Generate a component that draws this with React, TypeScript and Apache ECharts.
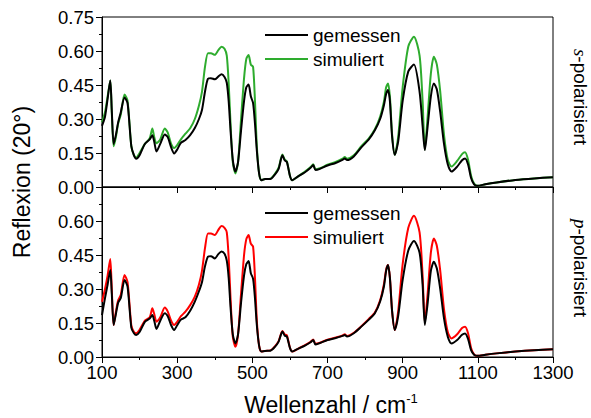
import React, { useEffect, useRef } from "react";
import * as echarts from "echarts";

// Wavenumbers (cm^-1), shared by all four curves
const wavenumber = [
  100, 108, 115, 122, 126, 131, 137, 143, 150, 160,
  168, 178, 185, 191, 200, 214, 227, 234, 239, 245,
  255, 267, 275, 284, 292, 300, 310, 322, 335, 347,
  358, 366, 374, 382, 390, 400, 410, 418, 426, 432,
  437, 442, 448, 455, 462, 470, 478, 484, 490, 496,
  502, 507, 512, 518, 524, 534, 548, 560, 570, 580,
  586, 592, 600, 606, 620, 640, 655, 662, 668, 680,
  700, 720, 740, 746, 752, 770, 790, 810, 826, 840,
  850, 856, 861, 866, 872, 879, 888, 900, 915, 930,
  945, 953, 959, 966, 975, 983, 991, 1000, 1010, 1020,
  1030, 1045, 1058, 1066, 1074, 1082, 1090, 1099, 1120, 1150,
  1200, 1250, 1300,
];

// s-polarised, measured
const sGemessen = [
  0.27, 0.31, 0.39, 0.47, 0.34, 0.19, 0.23, 0.285, 0.33, 0.395,
  0.37, 0.18, 0.14, 0.125, 0.14, 0.19, 0.21, 0.228, 0.2, 0.157,
  0.19, 0.232, 0.22, 0.175, 0.148, 0.165, 0.195, 0.207, 0.23, 0.26,
  0.3, 0.34, 0.42, 0.478, 0.48, 0.475, 0.488, 0.497, 0.485, 0.46,
  0.38, 0.25, 0.12, 0.068, 0.11, 0.25, 0.38, 0.44, 0.452, 0.4,
  0.37, 0.28, 0.16, 0.06, 0.03, 0.035, 0.035, 0.055, 0.08, 0.14,
  0.118, 0.11, 0.05, 0.03, 0.045, 0.065, 0.085, 0.097, 0.075, 0.08,
  0.095, 0.105, 0.12, 0.126, 0.119, 0.135, 0.175, 0.21, 0.25, 0.3,
  0.36, 0.41, 0.428, 0.38, 0.22, 0.142, 0.2, 0.38, 0.51, 0.54,
  0.42, 0.27, 0.163, 0.26, 0.4, 0.457, 0.43, 0.33, 0.19, 0.1,
  0.068, 0.09, 0.118, 0.126, 0.1, 0.04, 0.012, 0.005, 0.012, 0.02,
  0.031, 0.038, 0.043,
];

// s-polarised, simulated
const sSimuliert = [
  0.285, 0.33, 0.4, 0.47, 0.33, 0.18, 0.22, 0.28, 0.32, 0.408,
  0.38, 0.18, 0.14, 0.13, 0.15, 0.19, 0.215, 0.258, 0.22, 0.193,
  0.21, 0.258, 0.24, 0.19, 0.172, 0.185, 0.21, 0.235, 0.26, 0.3,
  0.36, 0.42, 0.53, 0.59, 0.59, 0.583, 0.605, 0.619, 0.61, 0.58,
  0.46, 0.28, 0.11, 0.06, 0.11, 0.3, 0.48, 0.565, 0.582, 0.54,
  0.53, 0.38, 0.18, 0.06, 0.03, 0.035, 0.037, 0.058, 0.085, 0.143,
  0.122, 0.113, 0.05, 0.03, 0.045, 0.068, 0.088, 0.1, 0.078, 0.083,
  0.098, 0.11, 0.125, 0.132, 0.125, 0.14, 0.18, 0.215, 0.255, 0.31,
  0.375, 0.44, 0.457, 0.4, 0.23, 0.142, 0.22, 0.44, 0.62, 0.663,
  0.58, 0.38, 0.165, 0.3, 0.5, 0.575, 0.54, 0.42, 0.23, 0.12,
  0.09, 0.115, 0.145, 0.153, 0.12, 0.05, 0.015, 0.005, 0.012, 0.02,
  0.031, 0.038, 0.043,
];

// p-polarised, measured
const pGemessen = [
  0.185, 0.26, 0.32, 0.384, 0.28, 0.141, 0.19, 0.24, 0.26, 0.34,
  0.31, 0.13, 0.105, 0.097, 0.11, 0.155, 0.17, 0.185, 0.16, 0.124,
  0.16, 0.193, 0.18, 0.14, 0.119, 0.14, 0.165, 0.175, 0.205, 0.244,
  0.29, 0.33, 0.4, 0.443, 0.445, 0.435, 0.455, 0.465, 0.455, 0.425,
  0.35, 0.22, 0.1, 0.06, 0.1, 0.24, 0.36, 0.41, 0.423, 0.37,
  0.345, 0.26, 0.14, 0.05, 0.024, 0.027, 0.028, 0.045, 0.068, 0.112,
  0.095, 0.09, 0.04, 0.024, 0.035, 0.05, 0.065, 0.075, 0.055, 0.062,
  0.075, 0.083, 0.093, 0.097, 0.09, 0.105, 0.134, 0.165, 0.193, 0.245,
  0.31, 0.38, 0.406, 0.35, 0.2, 0.119, 0.18, 0.34, 0.47, 0.512,
  0.46, 0.32, 0.141, 0.23, 0.38, 0.42, 0.39, 0.3, 0.17, 0.09,
  0.06, 0.075, 0.098, 0.104, 0.08, 0.03, 0.01, 0.005, 0.01, 0.016,
  0.024, 0.03, 0.034,
];

// p-polarised, simulated
const pSimuliert = [
  0.244, 0.3, 0.36, 0.432, 0.3, 0.141, 0.2, 0.25, 0.275, 0.362,
  0.33, 0.14, 0.11, 0.105, 0.12, 0.16, 0.175, 0.215, 0.19, 0.156,
  0.175, 0.218, 0.2, 0.16, 0.141, 0.155, 0.18, 0.2, 0.23, 0.266,
  0.32, 0.38, 0.48, 0.545, 0.545, 0.538, 0.562, 0.578, 0.57, 0.55,
  0.44, 0.26, 0.09, 0.045, 0.1, 0.28, 0.45, 0.52, 0.538, 0.5,
  0.487, 0.35, 0.16, 0.05, 0.024, 0.027, 0.029, 0.047, 0.07, 0.115,
  0.1, 0.095, 0.042, 0.024, 0.035, 0.052, 0.067, 0.077, 0.058, 0.063,
  0.076, 0.085, 0.095, 0.1, 0.093, 0.107, 0.136, 0.168, 0.196, 0.25,
  0.32, 0.385, 0.406, 0.35, 0.2, 0.119, 0.2, 0.41, 0.57, 0.623,
  0.55, 0.36, 0.15, 0.27, 0.46, 0.523, 0.49, 0.38, 0.21, 0.11,
  0.082, 0.1, 0.128, 0.134, 0.105, 0.04, 0.012, 0.005, 0.01, 0.016,
  0.024, 0.03, 0.034,
];

const seriesNames = ["gemessen", "simuliert"];
const panelLabels = ["s", "p"];
const xMin = 100;
const xMax = 1300;
const xStep = 200;
const yMin = 0;
const yMax = 0.75;
const yStep = 0.15;

const FONT = "'Liberation Sans', Arial, Helvetica, sans-serif";
const BLACK = "#000000";
const GREEN = "#2eac2e";
const RED = "#ff0000";

const pairs = (ys: number[]) => wavenumber.map((x, i) => [x, ys[i]]);

export default function App() {
  const ref = useRef<HTMLDivElement>(null);

  useEffect(() => {
    if (!ref.current) return;
    const chart = echarts.init(ref.current, undefined, { renderer: "svg" });

    const gridL = 102;
    const gridW = 451;
    const gridH = 170;
    const tops = [17, 187];

    const xAxisBase = (idx: number, showLabel: boolean) => ({
      gridIndex: idx,
      type: "value",
      min: xMin,
      max: xMax,
      interval: xStep,
      axisLine: { show: true, onZero: false, lineStyle: { color: BLACK, width: 1 } },
      axisTick: { show: true, inside: false, length: 6, lineStyle: { color: BLACK, width: 1 } },
      minorTick: { show: true, splitNumber: 2, length: 3, lineStyle: { color: BLACK, width: 1 } },
      splitLine: { show: false },
      axisLabel: {
        show: showLabel,
        fontFamily: FONT,
        fontSize: 18.5,
        color: BLACK,
        margin: 6,
        formatter: (v: number) => String(v),
      },
    });

    const yAxisBase = (idx: number, showMax: boolean) => ({
      gridIndex: idx,
      type: "value",
      min: yMin,
      max: yMax,
      interval: yStep,
      axisLine: { show: true, onZero: false, lineStyle: { color: BLACK, width: 1 } },
      axisTick: { show: true, inside: false, length: 6, lineStyle: { color: BLACK, width: 1 } },
      minorTick: { show: true, splitNumber: 2, length: 3, lineStyle: { color: BLACK, width: 1 } },
      splitLine: { show: false },
      axisLabel: {
        show: true,
        showMaxLabel: showMax,
        fontFamily: FONT,
        fontSize: 18.5,
        color: BLACK,
        margin: 8,
        formatter: (v: number) => v.toFixed(2),
      },
    });

    const lineSeries = (name: string, data: number[], idx: number, color: string, z: number) => ({
      name,
      type: "line",
      xAxisIndex: idx,
      yAxisIndex: idx,
      data: pairs(data),
      symbol: "none",
      showSymbol: false,
      smooth: 0.25,
      z,
      lineStyle: { color, width: 2 },
      emphasis: { disabled: true },
    });

    const legendGroup = (y0: number, simColor: string) => [
      {
        type: "line",
        shape: { x1: 265, y1: y0, x2: 308, y2: y0 },
        style: { stroke: BLACK, lineWidth: 2 },
      },
      {
        type: "text",
        x: 313,
        y: y0,
        style: {
          text: seriesNames[0],
          fontFamily: FONT,
          fontSize: 19,
          fill: BLACK,
          align: "left",
          verticalAlign: "middle",
        },
      },
      {
        type: "line",
        shape: { x1: 265, y1: y0 + 24, x2: 308, y2: y0 + 24 },
        style: { stroke: simColor, lineWidth: 2 },
      },
      {
        type: "text",
        x: 313,
        y: y0 + 24,
        style: {
          text: seriesNames[1],
          fontFamily: FONT,
          fontSize: 19,
          fill: BLACK,
          align: "left",
          verticalAlign: "middle",
        },
      },
    ];

    const sideLabel = (letter: string, cy: number) => ({
      type: "text",
      x: 580,
      y: cy,
      rotation: -Math.PI / 2,
      style: {
        text: `{it|${letter}}-polarisiert`,
        fontFamily: FONT,
        fontSize: 19,
        fill: BLACK,
        align: "center",
        verticalAlign: "middle",
        rich: {
          it: {
            fontFamily: "'Liberation Serif', 'Times New Roman', serif",
            fontStyle: "italic",
            fontSize: 19,
            fill: BLACK,
          },
        },
      },
    });

    const option = {
      animation: false,
      backgroundColor: "#ffffff",
      grid: tops.map((t) => ({
        left: gridL,
        top: t,
        width: gridW,
        height: gridH,
        show: true,
        borderColor: BLACK,
        borderWidth: 1,
        backgroundColor: "transparent",
        containLabel: false,
      })),
      xAxis: [xAxisBase(0, false), xAxisBase(1, true)],
      yAxis: [yAxisBase(0, true), yAxisBase(1, false)],
      series: [
        lineSeries(seriesNames[1], sSimuliert, 0, GREEN, 2),
        lineSeries(seriesNames[0], sGemessen, 0, BLACK, 3),
        lineSeries(seriesNames[1], pSimuliert, 1, RED, 2),
        lineSeries(seriesNames[0], pGemessen, 1, BLACK, 3),
      ],
      graphic: [
        ...legendGroup(35, GREEN),
        ...legendGroup(213, RED),
        sideLabel(panelLabels[0], 97),
        sideLabel(panelLabels[1], 268),
        {
          type: "text",
          x: 22,
          y: 182,
          rotation: Math.PI / 2,
          style: {
            text: "Reflexion (20°)",
            fontFamily: FONT,
            fontSize: 23,
            fill: BLACK,
            align: "center",
            verticalAlign: "middle",
          },
        },
        {
          type: "text",
          x: 331,
          y: 405,
          style: {
            text: "Wellenzahl / cm{sup|-1}",
            fontFamily: FONT,
            fontSize: 23,
            fill: BLACK,
            align: "center",
            verticalAlign: "middle",
            rich: {
              sup: {
                fontFamily: FONT,
                fontSize: 13,
                fill: BLACK,
                padding: [0, 0, 14, 0],
              },
            },
          },
        },
      ],
    };

    chart.setOption(option as any);
    return () => chart.dispose();
  }, []);

  return (
    <div
      ref={ref}
      style={{ position: "fixed", left: 0, top: 0, width: 591, height: 418, background: "#fff" }}
    />
  );
}
